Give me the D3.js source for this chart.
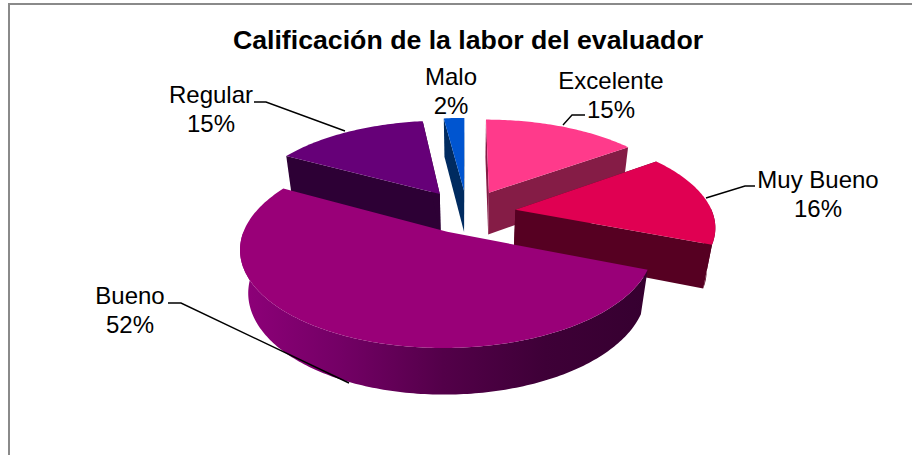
<!DOCTYPE html>
<html><head><meta charset="utf-8">
<script src="https://cdn.jsdelivr.net/npm/d3@7"></script>
<style>html,body{margin:0;padding:0;background:#fff}svg{display:block}text{font-family:"Liberation Sans",Arial,sans-serif;fill:#000}</style>
</head><body><svg id="c" width="912" height="455"></svg>
<script>
const title = "Calificación de la labor del evaluador";
const categories = ["Excelente","Muy Bueno","Bueno","Regular","Malo"];
const values = [15,16,52,15,2];
const percentLabels = ["15%","16%","52%","15%","2%"];
const topColors = ["#FF3A8B","#E00052","#990078","#660078","#0055D0"];
const faceColors = ["#851C46","#560022","#5A0050","#2D0035","#002B60"];
const labelCenters = [[611,89],[818,188],[130,304],[211,103],[451,85]];
const leaderPaths = [[[585,115],[572,115],[563,125]],[[755,186],[745,186],[706,198]],[[168,303],[181,303],[349,383]],[[254,102],[266,102],[345,131]]];
const drawOrder = [0,4,3,1,2];
const explode = [50,49,45,50,50];

const W=912,H=455,cx=467,cy=212.5,R=197,k=0.46,D=44,p=0.16,q=0.0008;
const svg=d3.select("#c");
const pie=d3.pie().value(d=>d).sort(null)(values);

function proj(X,Y,Z){
  const s=1/(1-p*Y/R+q*Z);
  return [cx+X*s, cy+(k*Y+Z)*s];
}
const defs=svg.append("defs");
const grad=defs.append("linearGradient").attr("id","wall").attr("gradientUnits","userSpaceOnUse")
  .attr("x1",241).attr("x2",646).attr("y1",0).attr("y2",0);
grad.selectAll("stop").data([[0,"#8E0079"],[0.25,"#730065"],[0.5,"#530049"],[0.75,"#3E0037"],[1,"#360030"]])
  .join("stop").attr("offset",d=>d[0]).attr("stop-color",d=>d[1]);

const line=d3.line();
svg.append("path").attr("d",line([[9,H],[9,4],[W,4]]))
  .attr("fill","none").attr("stroke","#8a8a8a").attr("stroke-width",2);

drawOrder.forEach(i=>{
  const a=pie[i], mid=(a.startAngle+a.endAngle)/2;
  const ox=explode[i]*Math.sin(mid), oy=-explode[i]*Math.cos(mid);
  const pt=(ang,r,z)=>proj(ox+r*Math.sin(ang),oy-r*Math.cos(ang),z);
  const n=Math.max(6,Math.ceil((a.endAngle-a.startAngle)*60));
  const angs=d3.range(n+1).map(j=>a.startAngle+(a.endAngle-a.startAngle)*j/n);
  const g=svg.append("g");
  const face=(ang)=>g.append("path")
    .attr("d",line([pt(ang,0,0),pt(ang,R,0),pt(ang,R,D),pt(ang,0,D)])+"Z")
    .attr("fill",faceColors[i]);
  if(i!==2){ face(a.startAngle); face(a.endAngle); }
  const wa=angs.filter(t=>Math.cos(t)<0.02);
  if(wa.length>1){
    const wp=wa.map(t=>pt(t,R,0)).concat(wa.slice().reverse().map(t=>pt(t,R,D)));
    g.append("path").attr("d",line(wp)+"Z").attr("fill",i===2?"url(#wall)":faceColors[i]);
  }
  const tp=[pt(0,0,0)].concat(angs.map(t=>pt(t,R,0)));
  g.append("path").attr("d",line(tp)+"Z").attr("fill",topColors[i]);
});

svg.append("g").selectAll("path").data(leaderPaths).join("path")
  .attr("d",d=>line(d)).attr("fill","none").attr("stroke","#000").attr("stroke-width",1.4);

const lab=svg.append("g").attr("font-size",24).attr("text-anchor","middle");
categories.forEach((c,i)=>{
  lab.append("text").attr("x",labelCenters[i][0]).attr("y",labelCenters[i][1]).text(c);
  lab.append("text").attr("x",labelCenters[i][0]).attr("y",labelCenters[i][1]+28.5).text(percentLabels[i]);
});
svg.append("text").attr("x",468).attr("y",48.5).attr("text-anchor","middle")
  .attr("font-size",26.7).attr("font-weight","bold").text(title);
</script></body></html>
